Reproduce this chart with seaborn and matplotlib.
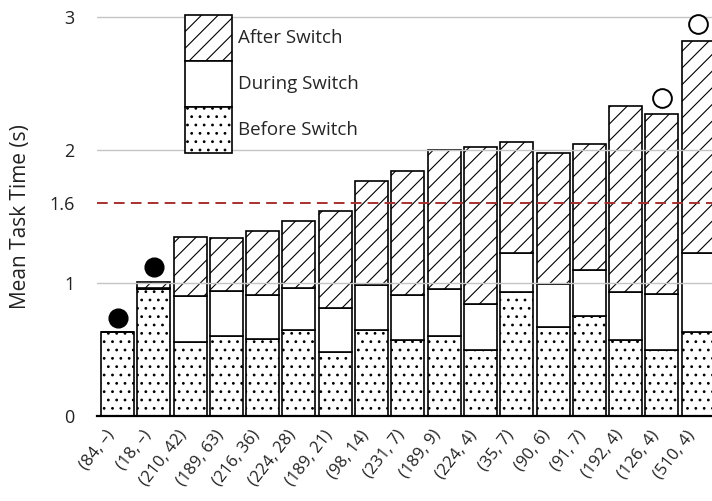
import numpy as np
import pandas as pd
import matplotlib
matplotlib.use("Agg")
import matplotlib.pyplot as plt
import matplotlib.transforms as mtransforms
from matplotlib.patches import Patch
import seaborn as sns

# Groups on the x axis: (sessions, switches)
groups = ["(84, –)", "(18, –)", "(210, 42)", "(189, 63)", "(216, 36)", "(224, 28)",
          "(189, 21)", "(98, 14)", "(231, 7)", "(189, 9)", "(224, 4)", "(35, 7)",
          "(90, 6)", "(91, 7)", "(192, 4)", "(126, 4)", "(510, 4)"]

# Mean task time (s) per phase
before_switch = [0.63, 0.955, 0.56, 0.60, 0.58, 0.65, 0.48, 0.645, 0.57, 0.60,
                 0.50, 0.93, 0.67, 0.75, 0.57, 0.50, 0.63]
during_switch = [0.0, 0.01, 0.345, 0.34, 0.33, 0.315, 0.33, 0.34, 0.34, 0.357,
                 0.345, 0.30, 0.32, 0.35, 0.36, 0.42, 0.60]
after_switch = [0.0, 0.045, 0.445, 0.396, 0.48, 0.505, 0.73, 0.785, 0.93, 1.043,
                1.18, 0.83, 0.99, 0.95, 1.40, 1.35, 1.59]

# Flagged groups
filled_flag_groups = ["(84, –)", "(18, –)"]
filled_flag_values = [0.74, 1.12]
open_flag_groups = ["(126, 4)", "(510, 4)"]
open_flag_values = [2.39, 2.95]

threshold = 1.6
ytick_values = [0, 1, 1.6, 2, 3]
ytick_labels = ["0", "1", "1.6", "2", "3"]
grid_values = [1, 2, 3]

sns.set_style("white")
plt.rcParams["font.family"] = ["Open Sans", "DejaVu Sans"]
plt.rcParams["hatch.linewidth"] = 0.8

df = pd.DataFrame({
    "group": groups,
    "before": before_switch,
    "during": during_switch,
    "after": after_switch,
})
df["during_base"] = df["before"]
df["after_base"] = df["before"] + df["during"]

W, H = 712, 501
fig = plt.figure(figsize=(W / 100, H / 100), dpi=100)
ax = fig.add_axes([97 / W, 1 - 416 / H, (W - 97) / W, 412 / H])

common = dict(color="white", saturation=1, edgecolor="black", linewidth=1.2,
              width=0.91, errorbar=None, ax=ax, order=groups)
sns.barplot(data=df, x="group", y="before", hatch="..", **common)
sns.barplot(data=df, x="group", y="during",
            bottom=df["during_base"].to_numpy(), **common)
sns.barplot(data=df, x="group", y="after",
            bottom=df["after_base"].to_numpy(), hatch="//", **common)

# light horizontal grid
ax.hlines(grid_values, -1, len(groups) + 1, color="#c4c4c4", lw=1.0, zorder=3)

# threshold line
ax.axhline(threshold, color="#a83030", lw=1.4, ls=(0, (5.5, 3.2)), zorder=4)

# flag markers
xf = [groups.index(g) for g in filled_flag_groups]
ax.plot(xf, filled_flag_values, "o", ms=13.5, color="black", clip_on=False, zorder=5)
xo = [groups.index(g) for g in open_flag_groups]
ax.plot(xo, open_flag_values, "o", ms=13.5, mfc="white", mec="black", mew=1.4,
        clip_on=False, zorder=5)

ax.set_xlim(-0.565, 16.38)
ax.set_ylim(0, 3.1)
ax.set_yticks(ytick_values, labels=ytick_labels)
ax.tick_params(axis="y", length=0, pad=16, labelsize=13, labelcolor="#222222")
ax.set_xticks(range(len(groups)))
ax.set_xticklabels(groups, rotation=52, ha="right", va="top", fontsize=12,
                   color="#222222")
offset = mtransforms.ScaledTranslation(11 / 100, 0, fig.dpi_scale_trans)
for lab in ax.get_xticklabels():
    lab.set_transform(lab.get_transform() + offset)
ax.tick_params(axis="x", length=0, pad=8)
ax.set_xlabel("")
ax.set_ylabel("Mean Task Time (s)", fontsize=15, color="#222222")
ax.yaxis.set_label_coords((31 - 97) / 615, (416 - 217) / 412)

for side in ["top", "right", "left"]:
    ax.spines[side].set_visible(False)
ax.spines["bottom"].set_color("black")
ax.spines["bottom"].set_linewidth(1.6)
ax.spines["bottom"].set_zorder(6)

# legend: boxes stacked edge to edge, each box 46 px tall
handles = [
    Patch(facecolor="white", edgecolor="black", hatch="//", lw=1.2, label="After Switch"),
    Patch(facecolor="white", edgecolor="black", lw=1.2, label="During Switch"),
    Patch(facecolor="white", edgecolor="black", hatch="..", lw=1.2, label="Before Switch"),
]
leg_fs = 13.5
row_pt = 46 * 0.72
hh = (row_pt - 0.245 * leg_fs) / (0.65 * leg_fs)
ax.legend(handles=handles, loc="upper left",
          bbox_to_anchor=(185 / W, 1 - 15 / H),
          bbox_transform=fig.transFigure, frameon=False, borderpad=0, borderaxespad=0,
          handlelength=47 * 0.72 / leg_fs, handleheight=hh, labelspacing=0,
          handletextpad=0.3, fontsize=leg_fs)

fig.savefig("out.png", dpi=100)
